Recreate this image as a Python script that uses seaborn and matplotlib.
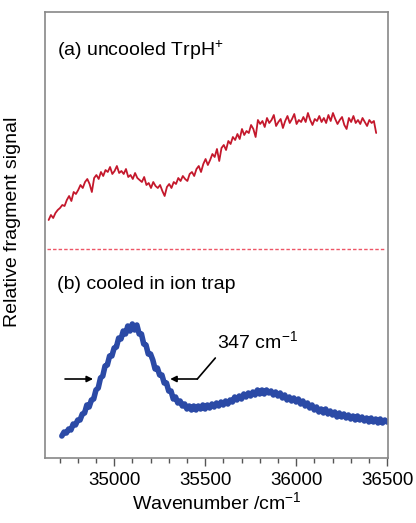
import matplotlib
matplotlib.use("Agg")
import matplotlib.pyplot as plt
from matplotlib.ticker import MultipleLocator
import seaborn as sns
import pandas as pd

# (a) uncooled TrpH+ : wavenumber (cm-1) and relative signal (arb.)
wn_a = [34640, 34652.5, 34665, 34677.5, 34690, 34702.5, 34715, 34727.5,
        34740, 34752.5, 34765, 34777.5, 34790, 34802.5, 34815, 34827.5,
        34840, 34852.5, 34865, 34877.5, 34890, 34902.5, 34915, 34927.5,
        34940, 34952.5, 34965, 34977.5, 34990, 35002.5, 35015, 35027.5,
        35040, 35052.5, 35065, 35077.5, 35090, 35102.5, 35115, 35127.5,
        35140, 35152.5, 35165, 35177.5, 35190, 35202.5, 35215, 35227.5,
        35240, 35252.5, 35265, 35277.5, 35290, 35302.5, 35315, 35327.5,
        35340, 35352.5, 35365, 35377.5, 35390, 35402.5, 35415, 35427.5,
        35440, 35452.5, 35465, 35477.5, 35490, 35502.5, 35515, 35527.5,
        35540, 35552.5, 35565, 35577.5, 35590, 35602.5, 35615, 35627.5,
        35640, 35652.5, 35665, 35677.5, 35690, 35702.5, 35715, 35727.5,
        35740, 35752.5, 35765, 35777.5, 35790, 35802.5, 35815, 35827.5,
        35840, 35852.5, 35865, 35877.5, 35890, 35902.5, 35915, 35927.5,
        35940, 35952.5, 35965, 35977.5, 35990, 36002.5, 36015, 36027.5,
        36040, 36052.5, 36065, 36077.5, 36090, 36102.5, 36115, 36127.5,
        36140, 36152.5, 36165, 36177.5, 36190, 36202.5, 36215, 36227.5,
        36240, 36252.5, 36265, 36277.5, 36290, 36302.5, 36315, 36327.5,
        36340, 36352.5, 36365, 36377.5, 36390, 36402.5, 36415, 36427.5,
        36440]
sig_a = [238, 243, 240, 245, 248, 250, 253, 252,
         258, 262, 257, 266, 264, 268, 273, 270,
         276, 279, 274, 266, 280, 283, 279, 286,
         282, 288, 286, 291, 284, 287, 292, 285,
         287, 284, 289, 281, 283, 279, 285, 280,
         278, 276, 281, 273, 275, 270, 276, 272,
         270, 273, 267, 262, 271, 274, 270, 276,
         274, 280, 277, 282, 279, 277, 284, 286,
         282, 289, 292, 286, 294, 299, 293, 298,
         304, 301, 309, 297, 310, 313, 308, 317,
         314, 321, 318, 324, 319, 329, 323, 327,
         325, 333, 329, 321, 338, 334, 337, 331,
         340, 335, 338, 343, 332, 336, 339, 330,
         337, 342, 335, 339, 344, 334, 338, 336,
         341, 336, 345, 338, 333, 339, 337, 342,
         336, 340, 335, 343, 337, 345, 339, 334,
         338, 341, 333, 329, 340, 336, 342, 335,
         338, 334, 340, 336, 332, 338, 335, 337,
         325]

# (b) cooled in ion trap
wn_b = [34712.5, 34725, 34737.5, 34750, 34762.5, 34775, 34787.5, 34800,
        34812.5, 34825, 34837.5, 34850, 34862.5, 34875, 34887.5, 34900,
        34912.5, 34925, 34937.5, 34950, 34962.5, 34975, 34987.5, 35000,
        35012.5, 35025, 35037.5, 35050, 35062.5, 35075, 35087.5, 35100,
        35112.5, 35125, 35137.5, 35150, 35162.5, 35175, 35187.5, 35200,
        35212.5, 35225, 35237.5, 35250, 35262.5, 35275, 35287.5, 35300,
        35312.5, 35325, 35337.5, 35350, 35362.5, 35375, 35387.5, 35400,
        35412.5, 35425, 35437.5, 35450, 35462.5, 35475, 35487.5, 35500,
        35512.5, 35525, 35537.5, 35550, 35562.5, 35575, 35587.5, 35600,
        35612.5, 35625, 35637.5, 35650, 35662.5, 35675, 35687.5, 35700,
        35712.5, 35725, 35737.5, 35750, 35762.5, 35775, 35787.5, 35800,
        35812.5, 35825, 35837.5, 35850, 35862.5, 35875, 35887.5, 35900,
        35912.5, 35925, 35937.5, 35950, 35962.5, 35975, 35987.5, 36000,
        36012.5, 36025, 36037.5, 36050, 36062.5, 36075, 36087.5, 36100,
        36112.5, 36125, 36137.5, 36150, 36162.5, 36175, 36187.5, 36200,
        36212.5, 36225, 36237.5, 36250, 36262.5, 36275, 36287.5, 36300,
        36312.5, 36325, 36337.5, 36350, 36362.5, 36375, 36387.5, 36400,
        36412.5, 36425, 36437.5, 36450, 36462.5, 36475, 36487.5, 36500]
sig_b = [22, 26, 25, 29, 28, 34, 33, 38,
         38, 44, 45, 53, 51, 58, 59, 68,
         70, 80, 82, 92, 93, 102, 102, 110,
         111, 120, 119, 127, 124, 132, 127, 134,
         128, 133, 124, 124, 114, 113, 104, 104,
         98, 89, 90, 83, 83, 75, 75, 67,
         67, 59, 61, 55, 57, 52, 54, 49,
         52, 48, 52, 48, 52, 49, 53, 49,
         53, 50, 54, 51, 55, 52, 56, 53,
         57, 54, 58, 56, 61, 58, 62, 59,
         64, 61, 65, 62, 66, 63, 68, 64,
         68, 64, 68, 65, 67, 63, 66, 62,
         65, 60, 63, 58, 61, 57, 60, 56,
         59, 54, 57, 52, 55, 50, 53, 48,
         51, 46, 49, 45, 49, 44, 47, 43,
         46, 41, 45, 41, 44, 40, 43, 39,
         42, 38, 42, 38, 41, 37, 40, 36,
         40, 36, 39, 35, 39, 35, 38, 36]

baseline = 209

df_a = pd.DataFrame({"wn": wn_a, "sig": sig_a})
df_b = pd.DataFrame({"wn": wn_b, "sig": sig_b})

sns.set_style("white")
plt.rcParams["font.family"] = ["Liberation Sans", "DejaVu Sans"]
plt.rcParams["mathtext.fontset"] = "custom"
plt.rcParams["mathtext.rm"] = "Liberation Sans"
plt.rcParams["mathtext.it"] = "Liberation Sans"
plt.rcParams["text.color"] = "black"
plt.rcParams["axes.labelcolor"] = "black"

fig = plt.figure(figsize=(4.16, 5.23), dpi=100)
ax = fig.add_axes([45 / 416, 65 / 523, 343 / 416, 446 / 523])

sns.lineplot(x="wn", y="sig", data=df_a, ax=ax, color="#c4182c", linewidth=1.3)
sns.lineplot(x="wn", y="sig", data=df_b, ax=ax, color="#2b4aa6", linewidth=4)
ax.axhline(baseline, xmin=0.006, xmax=0.99, color="#ee5566",
           linewidth=1.0, linestyle=(0, (2.5, 1.5)))

ax.set_xlim(34620, 36505)
ax.set_ylim(0, 446)
ax.set_yticks([])
ax.xaxis.set_major_locator(MultipleLocator(500))
ax.xaxis.set_minor_locator(MultipleLocator(100))
ax.tick_params(axis="x", which="major", direction="out", length=6, width=1,
               color="#555555", labelcolor="black", labelsize=13.5, pad=4,
               bottom=True)
ax.tick_params(axis="x", which="minor", direction="out", length=3.5, width=1,
               color="#555555", bottom=True)
for s in ax.spines.values():
    s.set_color("#888888")
    s.set_linewidth(1.2)

ax.set_xlabel("Wavenumber /cm$^{-1}$", fontsize=14, labelpad=2)
ax.set_ylabel("Relative fragment signal", fontsize=14)
ax.yaxis.set_label_coords(-0.07, 0.53)

ax.text(0.035, 0.915, "(a) uncooled TrpH$^{+}$", transform=ax.transAxes,
        fontsize=14, va="center", ha="left")
ax.text(0.035, 0.388, "(b) cooled in ion trap", transform=ax.transAxes,
        fontsize=14, va="center", ha="left")
ax.text(0.501, 0.263, "347 cm$^{-1}$", transform=ax.transAxes,
        fontsize=14, va="center", ha="left")

# FWHM arrows
ax.annotate("", xy=(34884, 79), xytext=(34730, 79),
            arrowprops=dict(arrowstyle="-|>", color="black", lw=1.2,
                            mutation_scale=9, shrinkA=0, shrinkB=0))
ax.plot([35457, 35556], [79, 100], color="black", lw=1.2)
ax.annotate("", xy=(35308, 79), xytext=(35457, 79),
            arrowprops=dict(arrowstyle="-|>", color="black", lw=1.2,
                            mutation_scale=9, shrinkA=0, shrinkB=0))

plt.savefig("out.png", dpi=100)
